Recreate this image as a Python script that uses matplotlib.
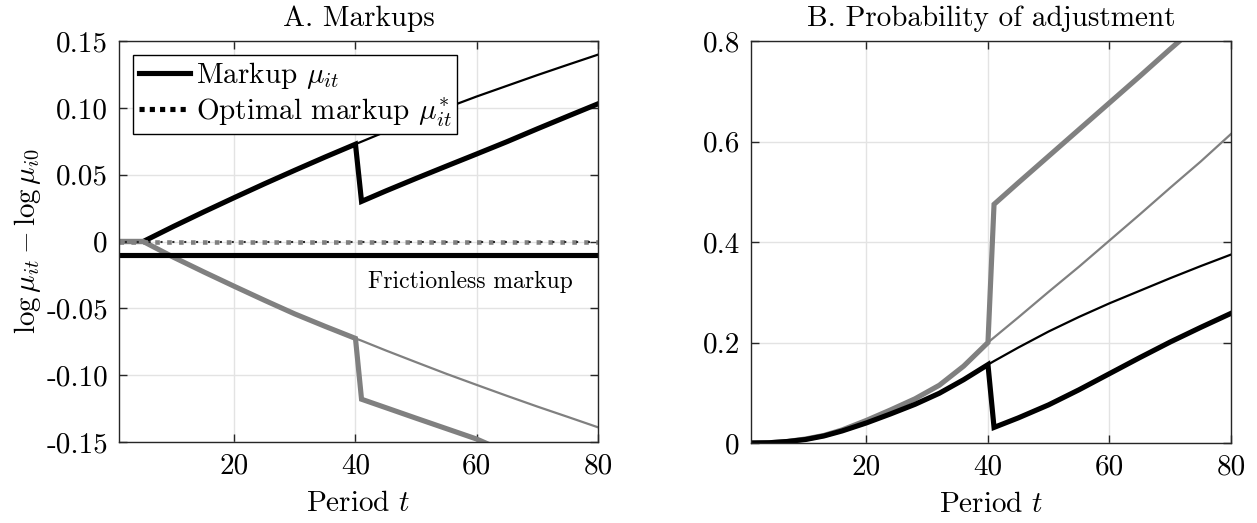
import matplotlib
matplotlib.use("Agg")
import matplotlib.pyplot as plt
from matplotlib.lines import Line2D

plt.rcParams['font.family'] = 'serif'
plt.rcParams['font.serif'] = ['cmr10']
plt.rcParams['mathtext.fontset'] = 'cm'
plt.rcParams['axes.unicode_minus'] = False
plt.rcParams['axes.formatter.use_mathtext'] = True

# ---------------- data ----------------
# Panel A: markups
tA_pre = [1, 5, 10, 15, 20, 25, 30, 35, 40]
tA_post = [41, 45, 50, 55, 60, 65, 70, 75, 80]

mk_up_pre = [0, 0, 0.0113, 0.0222, 0.0328, 0.0432, 0.0533, 0.0632, 0.0728]
mk_up_noadj_post = [0.0747, 0.0822, 0.0912, 0.1000, 0.1085, 0.1165, 0.1245, 0.1322, 0.1398]
mk_up_adj_post = [0.0300, 0.0378, 0.0472, 0.0564, 0.0655, 0.0747, 0.0843, 0.0937, 0.1030]

mk_dn_pre = [0, 0, -0.0118, -0.0228, -0.0335, -0.0440, -0.0542, -0.0635, -0.0725]
mk_dn_noadj_post = [-0.0742, -0.0815, -0.0903, -0.0990, -0.1073, -0.1155, -0.1235, -0.1312, -0.1390]
tA_dn_adj_post = [41, 45, 50, 55, 60, 62]
mk_dn_adj_post = [-0.1180, -0.1243, -0.1322, -0.1400, -0.1478, -0.1518]

optimal_markup = 0.0
frictionless_markup = -0.01

# Panel B: probability of adjustment
tB_pre = [1, 4, 7, 10, 13, 16, 20, 24, 28, 32, 36, 40]
tB_post = [41, 45, 50, 55, 60, 65, 70, 75, 80]

pr_lo_pre = [0, 0.0005, 0.003, 0.007, 0.014, 0.024, 0.040, 0.058, 0.077, 0.099, 0.126, 0.156]
pr_lo_noadj_post = [0.163, 0.190, 0.222, 0.251, 0.278, 0.303, 0.328, 0.352, 0.375]
pr_lo_adj_post = [0.031, 0.050, 0.076, 0.106, 0.138, 0.170, 0.201, 0.230, 0.258]

pr_hi_pre = [0, 0.0005, 0.003, 0.008, 0.015, 0.026, 0.045, 0.066, 0.088, 0.115, 0.153, 0.200]
pr_hi_noadj_post = [0.210, 0.250, 0.301, 0.351, 0.403, 0.455, 0.508, 0.560, 0.615]
tB_hi_adj_post = [41, 45, 50, 55, 60, 65, 70, 72]
pr_hi_adj_post = [0.475, 0.518, 0.571, 0.624, 0.677, 0.730, 0.784, 0.805]

xticks = [20, 40, 60, 80]
yticksA = [-0.15, -0.10, -0.05, 0, 0.05, 0.10, 0.15]
yticklabelsA = ['-0.15', '-0.10', '-0.05', '0', '0.05', '0.10', '0.15']
yticksB = [0, 0.2, 0.4, 0.6, 0.8]
yticklabelsB = ['0', '0.2', '0.4', '0.6', '0.8']

# ---------------- style ----------------
GRAY = '#808080'
THICK = 3.7
THIN = 1.6
FS = 21

W, H = 1257, 523
fig = plt.figure(figsize=(W / 100, H / 100), dpi=100)
axA = fig.add_axes([119 / W, (H - 442) / H, 479 / W, 401 / H])
axB = fig.add_axes([751 / W, (H - 443) / H, 480 / W, 402 / H])


def style(ax):
    ax.grid(True, color='#e3e3e3', linewidth=1.0)
    ax.set_axisbelow(True)
    for s in ax.spines.values():
        s.set_color('#262626')
        s.set_linewidth(1.0)
    ax.tick_params(direction='in', top=True, right=True, length=6,
                   width=1.0, color='#262626', labelsize=FS, pad=8)
    ax.set_xlim(1, 80)
    ax.set_xticks(xticks)
    ax.set_xticklabels([str(v) for v in xticks])
    ax.set_xlabel('Period $t$', fontsize=FS, labelpad=8)


# Panel A
tA_all = tA_pre + tA_post
axA.plot(tA_all, mk_up_pre + mk_up_noadj_post, color='black', lw=THIN)
axA.plot(tA_all, mk_up_pre + mk_up_adj_post, color='black', lw=THICK, solid_joinstyle='miter')
axA.plot(tA_all, mk_dn_pre + mk_dn_noadj_post, color=GRAY, lw=THIN)
axA.plot(tA_pre + tA_dn_adj_post, mk_dn_pre + mk_dn_adj_post, color=GRAY, lw=THICK, solid_joinstyle='miter')
axA.plot([1, 80], [optimal_markup] * 2, color=GRAY, lw=3.3, linestyle=(0, (1, 1.6)))
axA.plot([1, 80], [optimal_markup] * 2, color='#2a2a2a', lw=1.5, linestyle=(-2.8, (1, 4.7)))
axA.plot([1, 80], [frictionless_markup] * 2, color='black', lw=THICK, solid_capstyle='butt')
axA.text(59, -0.0305, 'Frictionless markup', fontsize=17, ha='center', va='center')
style(axA)
axA.set_ylim(-0.15, 0.15)
axA.set_yticks(yticksA)
axA.set_yticklabels(yticklabelsA)
axA.set_ylabel(r'$\log\mu_{it}-\log\mu_{i0}$', fontsize=FS, labelpad=2)
axA.set_title('A. Markups', fontsize=FS, pad=11)

handles = [Line2D([], [], color='black', lw=THICK),
           Line2D([], [], color='black', lw=THICK, linestyle=(0, (1, 1)))]
leg = axA.legend(handles, [r'Markup $\mu_{it}$', r'Optimal markup $\mu^{*}_{it}$'],
                 loc='upper left', bbox_to_anchor=(0.029, 0.966), fontsize=FS,
                 fancybox=False, framealpha=1, edgecolor='black', handlelength=1.75,
                 handletextpad=0.2, borderpad=0.2, labelspacing=0.15, borderaxespad=0)
leg.get_frame().set_linewidth(1.0)

# Panel B
tB_all = tB_pre + tB_post
axB.plot(tB_all, pr_hi_pre + pr_hi_noadj_post, color=GRAY, lw=THIN)
axB.plot(tB_pre + tB_hi_adj_post, pr_hi_pre + pr_hi_adj_post, color=GRAY, lw=THICK, solid_joinstyle='miter')
axB.plot(tB_all, pr_lo_pre + pr_lo_noadj_post, color='black', lw=THIN)
axB.plot(tB_all, pr_lo_pre + pr_lo_adj_post, color='black', lw=THICK, solid_joinstyle='miter')
style(axB)
axB.set_ylim(0, 0.8)
axB.set_yticks(yticksB)
axB.set_yticklabels(yticklabelsB)
axB.set_title('B. Probability of adjustment', fontsize=FS, pad=11)

fig.savefig('out.png', dpi=100)
